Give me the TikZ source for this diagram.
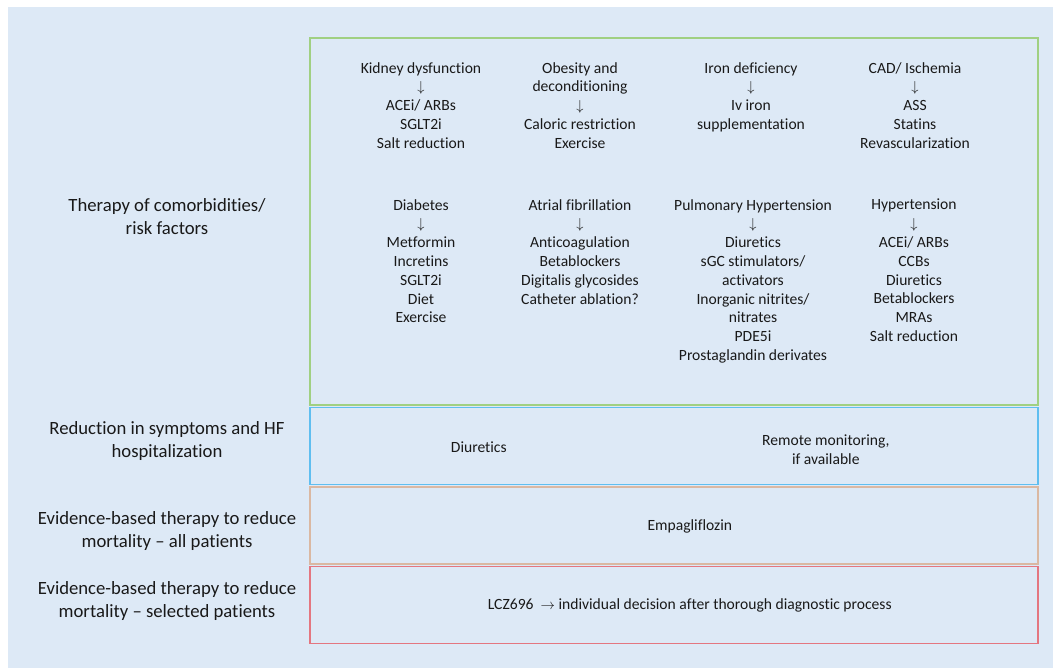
\documentclass[tikz,border=0pt]{standalone}
\usepackage{xcolor}
\usepackage{fontspec}
\setmainfont{Carlito}[Ligatures={TeX,NoCommon}]
\usepackage{tikz}
\usetikzlibrary{positioning, calc}

\definecolor{panelbg}{RGB}{221,233,246}
\definecolor{greenline}{RGB}{160,208,130}
\definecolor{blueline}{RGB}{95,190,240}
\definecolor{tanline}{RGB}{218,184,162}
\definecolor{redline}{RGB}{228,118,128}
\definecolor{textgray}{RGB}{25,25,25}

\newcommand{\dnarrow}{$\downarrow$}

\begin{document}
\begin{tikzpicture}[x=1pt, y=-1pt,
				every node/.style={inner sep=0pt, text=textgray, font=\fontsize{15.6}{18.8}\selectfont},
				item/.style={anchor=north, align=center},
				rowlabel/.style={align=center, font=\fontsize{18.7}{23}\selectfont},
				rowbox/.style={draw, line width=1.6pt, minimum width=728pt, minimum height=77pt}
				]
				\useasboundingbox (0,0) rectangle (1053,668);
				\fill[panelbg] (8,7) rectangle (1053,668);

				% boxes
				\node[rowbox, draw=greenline, minimum height=367pt, anchor=north west] (comorb) at (309,37) {};
				\node[rowbox, draw=blueline, below=1pt of comorb] (sympt) {};
				\node[rowbox, draw=tanline, below=1pt of sympt] (mortall) {};
				\node[rowbox, draw=redline, below=1pt of mortall] (mortsel) {};

				% row labels
				\node[rowlabel] (lcomorb) at (167,216.5) {Therapy of comorbidities/\\risk factors};
				\node[rowlabel] (lsympt) at (167,441.5) {Reduction in symptoms and HF\\hospitalization};
				\node[rowlabel] (lmortall) at (167,531.5) {Evidence-based therapy to reduce\\mortality -- all patients};
				\node[rowlabel] (lmortsel) at (167,601.5) {Evidence-based therapy to reduce\\mortality -- selected patients};

				% comorbidities
				\node[item] (kidney) at (421,62) {Kidney dysfunction\\\dnarrow\\ACEi/ ARBs\\SGLT2i\\Salt reduction};
				\node[item] (obesity) at (580,62) {Obesity and\\deconditioning\\\dnarrow\\Caloric restriction\\Exercise};
				\node[item] (iron) at (751,62) {Iron deficiency\\\dnarrow\\Iv iron\\supplementation};
				\node[item] (cad) at (915,62) {CAD/ Ischemia\\\dnarrow\\ASS\\Statins\\Revascularization};
				\node[item] (diab) at (421,199) {Diabetes\\\dnarrow\\Metformin\\Incretins\\SGLT2i\\Diet\\Exercise};
				\node[item] (afib) at (580,199) {Atrial fibrillation\\\dnarrow\\Anticoagulation\\Betablockers\\Digitalis glycosides\\Catheter ablation?};
				\node[item] (pulm) at (753,199) {Pulmonary Hypertension\\\dnarrow\\Diuretics\\sGC stimulators/\\activators\\Inorganic nitrites/\\nitrates\\PDE5i\\Prostaglandin derivates};
				\node[item] (hyper) at (914,199) {Hypertension\\\dnarrow\\ACEi/ ARBs\\CCBs\\Diuretics\\Betablockers\\MRAs\\Salt reduction};

				% lower rows
				\node (diur) at ($(sympt.center)+(-195,1)$) {Diuretics};
				\node[align=center] (remote) at ($(sympt.center)+(152,4)$) {Remote monitoring,\\if available};
				\node (empa) at ($(mortall.center)+(16,1)$) {Empagliflozin};
				\node (lcz) at ($(mortsel.center)+(16,0)$) {LCZ696\ \ $\rightarrow$ individual decision after thorough diagnostic process};
			\end{tikzpicture}
\end{document}
